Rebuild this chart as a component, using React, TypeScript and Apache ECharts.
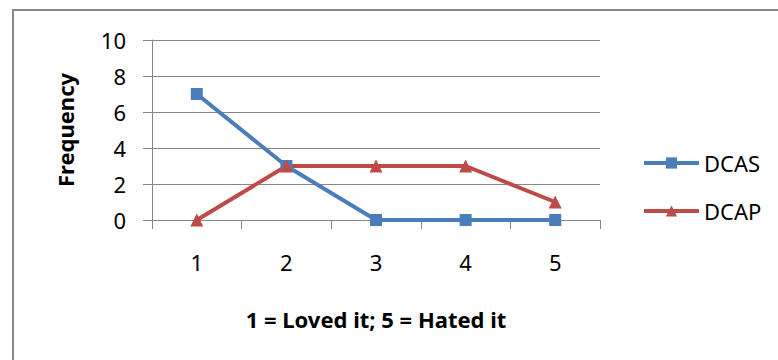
import React, { useEffect, useRef } from "react";
import * as echarts from "echarts";

const categories = ["1", "2", "3", "4", "5"];
const dcas = [7, 3, 0, 0, 0];
const dcap = [0, 3, 3, 3, 1];
const yTicks = { min: 0, max: 10, interval: 2 };

const FONT = "'Noto Sans', 'Open Sans', sans-serif";
const GRAY = "#868686";
const BLUE = "#4A7EBB";
const RED = "#BE4B48";

export default function App() {
  const ref = useRef<HTMLDivElement>(null);

  useEffect(() => {
    if (!ref.current) return;
    const chart = echarts.init(ref.current, undefined, { renderer: "svg" });
    chart.setOption({
      animation: false,
      backgroundColor: "#fff",
      textStyle: { fontFamily: FONT },
      graphic: [
        {
          type: "rect",
          z: -1,
          shape: { x: 13, y: 10, width: 800, height: 400 },
          style: { fill: "none", stroke: "#8a8a8a", lineWidth: 2 },
        },
      ],
      grid: { left: 152, right: 178, top: 40, bottom: 140, containLabel: false },
      legend: {
        orient: "vertical",
        left: 637,
        top: 147,
        padding: 5,
        itemWidth: 55,
        itemHeight: 14,
        itemGap: 26,
        lineStyle: { width: 4 },
        textStyle: { fontSize: 22, color: "#000", fontFamily: FONT },
        data: ["DCAS", "DCAP"],
      },
      xAxis: {
        type: "category",
        data: categories,
        boundaryGap: true,
        axisLine: { show: true, lineStyle: { color: GRAY, width: 1 } },
        axisTick: { show: true, length: 9, alignWithLabel: false, lineStyle: { color: GRAY } },
        axisLabel: { fontSize: 22, color: "#000", margin: 31, fontFamily: FONT },
        name: "1 = Loved it; 5 = Hated it",
        nameLocation: "middle",
        nameGap: 88,
        nameTextStyle: { fontSize: 22, fontWeight: "bold", color: "#000", fontFamily: FONT },
      },
      yAxis: {
        type: "value",
        min: yTicks.min,
        max: yTicks.max,
        interval: yTicks.interval,
        axisLine: { show: true, lineStyle: { color: GRAY, width: 1 } },
        axisTick: { show: true, length: 9, lineStyle: { color: GRAY } },
        splitLine: { show: true, lineStyle: { color: GRAY, width: 1 } },
        axisLabel: { fontSize: 22, color: "#000", margin: 26, fontFamily: FONT },
        name: "Frequency",
        nameLocation: "middle",
        nameRotate: 90,
        nameGap: 76,
        nameTextStyle: { fontSize: 22, fontWeight: "bold", color: "#000", fontFamily: FONT },
      },
      series: [
        {
          name: "DCAS",
          type: "line",
          data: dcas,
          symbol: "rect",
          symbolSize: 12,
          lineStyle: { width: 4, color: BLUE },
          itemStyle: { color: BLUE },
        },
        {
          name: "DCAP",
          type: "line",
          data: dcap,
          symbol: "triangle",
          symbolSize: 13,
          lineStyle: { width: 4, color: RED },
          itemStyle: { color: RED },
        },
      ],
    });
    return () => chart.dispose();
  }, []);

  return (
    <div
      ref={ref}
      style={{ position: "fixed", left: 0, top: 0, width: 778, height: 360 }}
    />
  );
}
